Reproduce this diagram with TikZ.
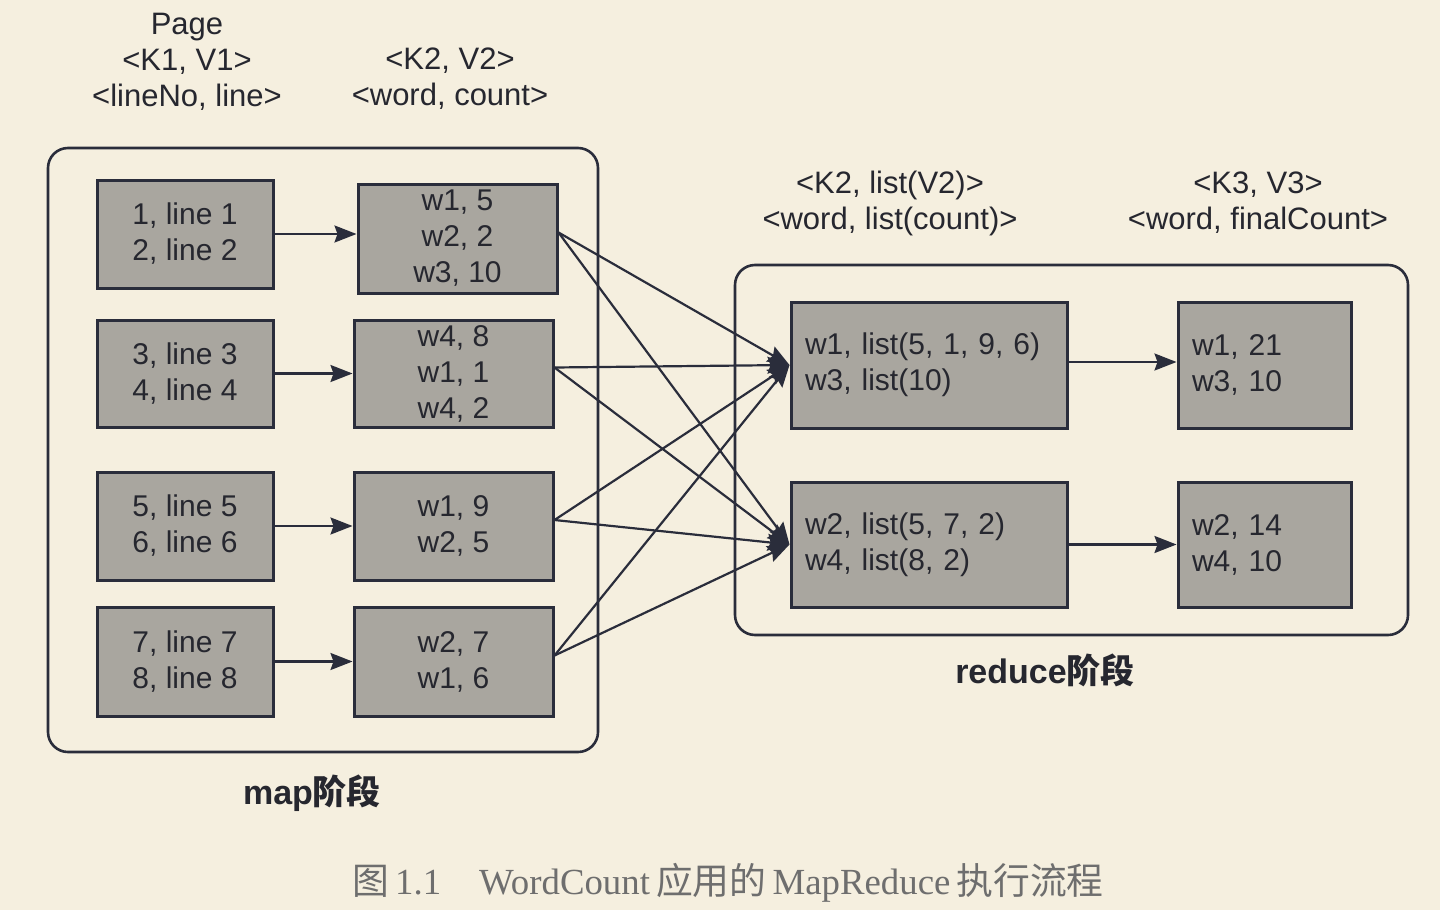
\documentclass[tikz,border=0pt]{standalone}
\usepackage{fontspec}
\setmainfont{Liberation Sans}
\newfontfamily\cjk{Noto Sans CJK SC}
\newfontfamily\capserif{Liberation Serif}
\usetikzlibrary{arrows.meta}
\definecolor{bg}{HTML}{F5EFDF}
\definecolor{boxfill}{HTML}{A9A69F}
\definecolor{ln}{HTML}{2A2D3B}
\definecolor{txt}{HTML}{26272F}
\definecolor{capcol}{HTML}{6E6E6E}
\begin{document}
\begin{tikzpicture}[x=0.5pt,y=-0.5pt,
  box/.style={draw=ln, line width=1.5pt, fill=boxfill, inner sep=0pt, text=txt,
    font=\fontsize{15}{18}\selectfont, align=center},
  lbox/.style={box, align=left, inner xsep=7pt},
  lbl/.style={text=txt, font=\fontsize{15.5}{18}\selectfont, align=center, inner sep=0pt},
  stage/.style={text=txt, font=\fontsize{17}{20}\selectfont\bfseries, inner sep=0pt},
  outer/.style={draw=ln, line width=1.3pt, rounded corners=10pt},
  arr/.style={draw=ln, line width=1.1pt, -{Stealth[length=11pt,width=8.5pt,inset=1.5pt]}}]
\fill[bg] (0,0) rectangle (1440,910);
\useasboundingbox (0,0) rectangle (1440,910);

% outer frames
\draw[outer] (48,148) rectangle (598,752);
\draw[outer] (735,265) rectangle (1408,635);

% headers
\node[lbl] (h1) at (187,62) {Page\\<K1, V1>\\<lineNo, line>};
\node[lbl] (h2) at (450,79) {<K2, V2>\\<word, count>};
\node[lbl] (h3) at (890,203) {<K2, list(V2)>\\<word, list(count)>};
\node[lbl] (h4) at (1258,203) {<K3, V3>\\<word, finalCount>};

% input boxes
\node[box, minimum width=88pt, minimum height=54pt] (i1) at (185,234) {1, line 1\\2, line 2};
\node[box, minimum width=88pt, minimum height=53.5pt] (i2) at (185,373.5) {3, line 3\\4, line 4};
\node[box, minimum width=88pt, minimum height=54pt] (i3) at (185,526) {5, line 5\\6, line 6};
\node[box, minimum width=88pt, minimum height=54.5pt] (i4) at (185,661.5) {7, line 7\\8, line 8};

% map output boxes
\node[box, minimum width=99.5pt, minimum height=54.5pt] (o1) at (457.5,238.5) {w1, 5\\w2, 2\\w3, 10};
\node[box, minimum width=99.5pt, minimum height=53.5pt] (o2) at (453.5,373.5) {w4, 8\\w1, 1\\w4, 2};
\node[box, minimum width=99.5pt, minimum height=54pt] (o3) at (453.5,526) {w1, 9\\w2, 5};
\node[box, minimum width=99.5pt, minimum height=54.5pt] (o4) at (453.5,661.5) {w2, 7\\w1, 6};

% reduce boxes
\node[lbox, text width=124pt, minimum height=63pt] (r1) at (929,365) {w1, list(5, 1, 9, 6)\\w3, list(10)};
\node[lbox, text width=124pt, minimum height=62.5pt] (r2) at (929,544.5) {w2, list(5, 7, 2)\\w4, list(8, 2)};

% final boxes
\node[lbox, text width=72.5pt, minimum height=63pt] (f1) at (1264.5,365) {w1, 21\\w3, 10};
\node[lbox, text width=72.5pt, minimum height=62.5pt] (f2) at (1264.5,544.5) {w2, 14\\w4, 10};

% map arrows
\draw[arr] (i1) -- (o1.west |- i1);
\draw[arr] (i2) -- (o2);
\draw[arr] (i3) -- (o3);
\draw[arr] (i4) -- (o4);

% shuffle arrows
\foreach \s in {o1,o2,o3,o4}{
  \draw[arr] ([yshift=3pt]\s.east) -- (r1.west);
  \draw[arr] ([yshift=3pt]\s.east) -- (r2.west);
}

% reduce arrows
\draw[arr] (r1.east |- 0,362) -- (f1.west |- 0,362);
\draw[arr] (r2) -- (f2);

% stage labels
\node[stage] (ms) at (312,793) {map{\cjk 阶段}};
\node[stage] (rs) at (1045,670) {reduce{\cjk 阶段}};

% caption
\node[text=capcol, inner sep=0pt, font=\fontsize{18.4}{20}\selectfont] (cap) at (728,883)
  {{\cjk 图}\,{\capserif 1.1}\hspace{19pt}{\capserif WordCount}\,{\cjk 应用的}\,{\capserif MapReduce}\,{\cjk 执行流程}};
\end{tikzpicture}
\end{document}
